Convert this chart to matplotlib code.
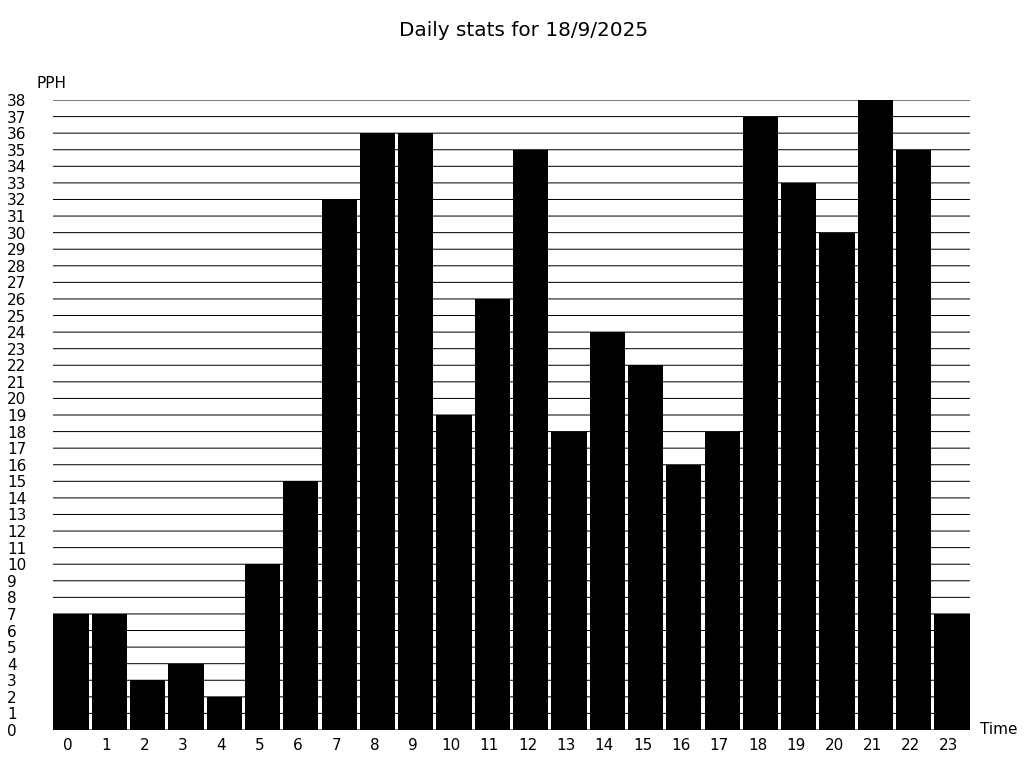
import numpy as np
import matplotlib.pyplot as plt
import matplotlib.transforms as mtransforms

hours = list(range(24))
pph = [7, 7, 3, 4, 2, 10, 15, 32, 36, 36, 19, 26, 35, 18, 24, 22, 16, 18, 37, 33, 30, 38, 35, 7]
title = 'Daily stats for 18/9/2025'

fig = plt.figure(figsize=(10.24, 7.68), dpi=100)
ax = fig.add_axes([53 / 1024, 38 / 768, 917 / 1024, 630 / 768])

# horizontal grid, one line per unit
for y in range(0, 39):
    ax.axhline(y, color='black', lw=0.72, zorder=1, snap=False)

ax.bar(hours, pph, width=0.92, color='black', zorder=2)

ax.set_xlim(-0.47, 23.47)
ax.set_ylim(0, 38)
for s in ax.spines.values():
    s.set_visible(False)

ax.set_yticks(range(0, 39))
ax.set_yticklabels([str(v) for v in range(0, 39)], fontsize=11)
ax.tick_params(axis='y', length=0, pad=33)
for lbl in ax.get_yticklabels():
    lbl.set_horizontalalignment('left')

ax.set_xticks(hours)
ax.set_xticklabels([str(h) for h in hours], fontsize=11)
ax.tick_params(axis='x', length=0, pad=6)
off = mtransforms.ScaledTranslation(-3 / 100, 0, fig.dpi_scale_trans)
for lbl in ax.get_xticklabels():
    lbl.set_transform(lbl.get_transform() + off)

fig.text(37 / 1024, 1 - 84 / 768, 'PPH', fontsize=11, ha='left', va='center')
fig.text(980 / 1024, 1 - 730 / 768, 'Time', fontsize=11, ha='left', va='center')
fig.text(524 / 1024, 1 - 30 / 768, title, fontsize=14.4, ha='center', va='center')

fig.savefig('out.png', dpi=100)
